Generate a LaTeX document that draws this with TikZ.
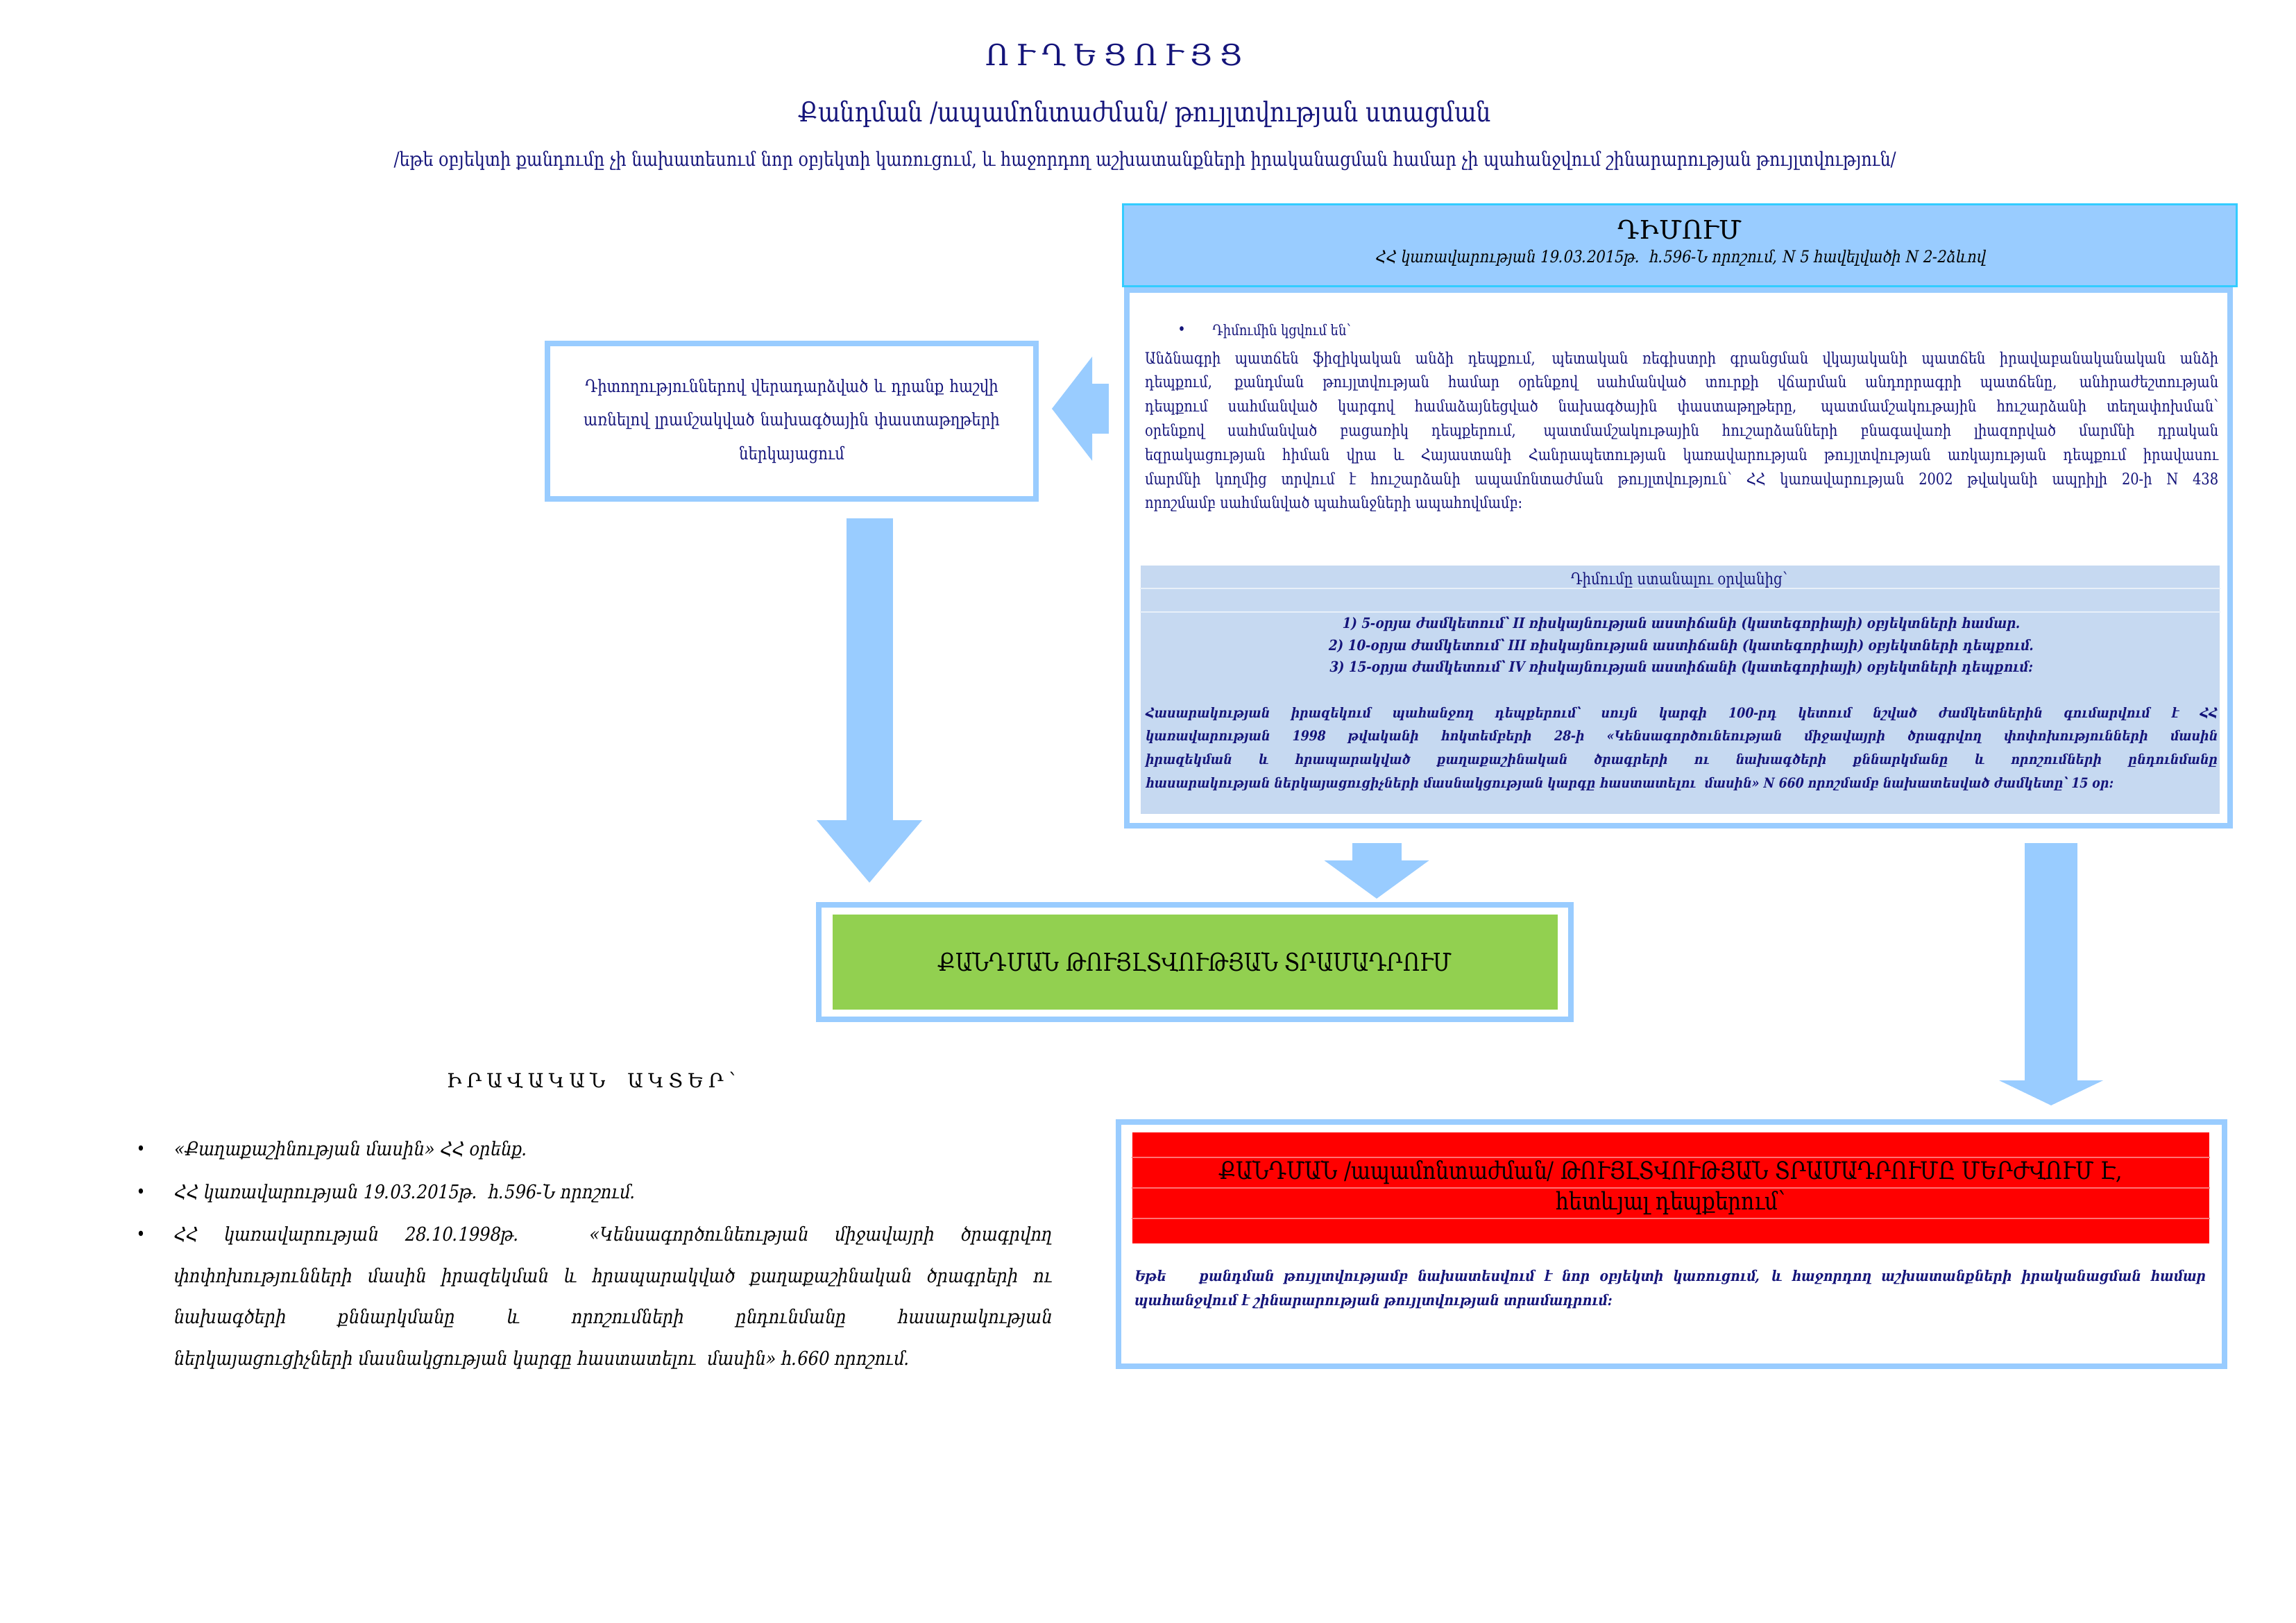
\documentclass[tikz,border=0pt]{standalone}
\usepackage{fontspec}
\setmainfont{DejaVu Serif}[FakeStretch=0.85]
\newfontfamily\armplain{DejaVu Serif}
\newfontfamily\armit{DejaVu Serif}[FakeSlant=0.2, FakeStretch=0.88]
\newfontfamily\armwide{DejaVu Serif}[LetterSpace=25]
\usetikzlibrary{arrows.meta}
\definecolor{inkblue}{HTML}{14147A}
\definecolor{skyblue}{HTML}{99CCFF}
\definecolor{capblue}{HTML}{33CCFF}
\definecolor{paleblue}{HTML}{C6D9F1}
\definecolor{leafgreen}{HTML}{92D050}
\newcommand{\setfs}[2]{\fontsize{#1}{#2}\selectfont}
\tolerance=10000
\adjdemerits=0
\begin{document}
\begin{tikzpicture}[x=1cm, y=-1cm, line join=miter, inner sep=0pt]
	\tikzset{frame/.style={draw=skyblue, line width=0.85mm, fill=white},
		txt/.style={text=inkblue, font=\setfs{6.5}{9.9}},
		fat/.style n args={3}{draw=skyblue, line width=#1, -{Triangle[length=#2, width=#3, line width=0pt 0 0, fill=skyblue]}}}
	\useasboundingbox (0,0) rectangle (33.09,23.39);
	% titles
	\node[text=inkblue, font=\armwide\setfs{12}{14}] (ttl) at (16.05,0.80) {ՈՒՂԵՑՈՒՅՑ};
	\node[text=inkblue, font=\setfs{11.2}{13}] (sub) at (16.5,1.65) {Քանդման /ապամոնտաժման/ թույլտվության ստացման};
	\node[text=inkblue, font=\setfs{8}{9}] (note) at (16.5,2.32) {/եթե օբյեկտի քանդումը չի նախատեսում նոր օբյեկտի կառուցում, և հաջորդող աշխատանքների իրականացման համար չի պահանջվում շինարարության թույլտվություն/};
	% application
	\node[frame, minimum width=15.90cm, minimum height=7.72cm] (docs) at (24.19,8.04) {};
	\node[draw=capblue, fill=skyblue, line width=0.3mm, minimum width=16.05cm, minimum height=1.18cm] (dim) at (24.205,3.54) {};
	\node[font=\armplain\setfs{10.5}{13}] (dimttl) at (24.21,3.31) {ԴԻՄՈՒՄ};
	\node[font=\armit\setfs{6.8}{7}] (dimref) at (24.21,3.72) {ՀՀ կառավարության 19.03.2015թ.\ \ հ.596-Ն որոշում, N 5 հավելվածի N 2-2ձևով};
	\node[txt] (dot0) at (17.03,4.77) {•};
	\node[txt, font=\setfs{6}{7}, anchor=west] (att) at (17.47,4.77) {Դիմումին կցվում են՝};
	\node[txt, text width=15.47cm, align=justify] (attlist) at (24.235,6.22) {Անձնագրի պատճեն ֆիզիկական անձի դեպքում, պետական ռեգիստրի գրանցման վկայականի պատճեն իրավաբանականական անձի\linebreak
		դեպքում, քանդման թույլտվության համար օրենքով սահմանված տուրքի վճարման անդորրագրի պատճենը, անհրաժեշտության\linebreak
		դեպքում սահմանված կարգով համաձայնեցված նախագծային փաստաթղթերը, պատմամշակութային հուշարձանի տեղափոխման՝\linebreak
		օրենքով սահմանված բացառիկ դեպքերում, պատմամշակութային հուշարձանների բնագավառի լիազորված մարմնի դրական\linebreak
		եզրակացության հիման վրա և Հայաստանի Հանրապետության կառավարության թույլտվության առկայության դեպքում իրավասու\linebreak
		մարմնի կողմից տրվում է հուշարձանի ապամոնտաժման թույլտվություն՝ ՀՀ կառավարության 2002 թվականի ապրիլի 20-ի N 438\linebreak
		որոշմամբ սահմանված պահանջների ապահովմամբ:};
	% terms
	\node[fill=paleblue, minimum width=15.55cm, minimum height=3.58cm] (terms) at (24.215,9.94) {};
	\foreach \y in {8.48,8.82}
	\draw[white!60!paleblue, line width=0.4pt] (terms.west |- 0,\y) -- (terms.east |- 0,\y);
	\node[txt, font=\setfs{6.6}{8}] (from) at (24.2,8.36) {Դիմումը ստանալու օրվանից՝};
	\node[txt, font=\armit\bfseries\setfs{5.9}{8.9}, align=center] (days) at (24.22,9.31) {1) 5-օրյա ժամկետում՝ II ռիսկայնության աստիճանի (կատեգորիայի) օբյեկտների համար.\\
		2) 10-օրյա ժամկետում՝ III ռիսկայնության աստիճանի (կատեգորիայի) օբյեկտների դեպքում.\\
		3) 15-օրյա ժամկետում՝ IV ռիսկայնության աստիճանի (կատեգորիայի) օբյեկտների դեպքում:};
	\node[txt, font=\armit\bfseries\setfs{5.6}{9.6}, text width=15.45cm, align=justify] (pub) at (24.225,10.79) {Հասարակության իրազեկում պահանջող դեպքերում՝ սույն կարգի 100-րդ կետում նշված ժամկետներին գումարվում է ՀՀ\linebreak
		կառավարության 1998 թվականի հոկտեմբերի 28-ի «Կենսագործունեության միջավայրի ծրագրվող փոփոխությունների մասին\linebreak
		իրազեկման և հրապարակված քաղաքաշինական ծրագրերի ու նախագծերի քննարկմանը և որոշումների ընդունմանը\linebreak
		հասարակության ներկայացուցիչների մասնակցության կարգը հաստատելու\ \ մասին» N 660 որոշմամբ նախատեսված ժամկետը՝~15~օր:};
	% remarks
	\node[frame, txt, font=\setfs{7.1}{13.8}, minimum width=7.04cm, minimum height=2.24cm, text width=6.8cm, align=center] (obs) at (11.41,6.07) {Դիտողություններով վերադարձված և դրանք հաշվի\\
		առնելով լրամշակված նախագծային փաստաթղթերի\\ ներկայացում};
	% permission
	\node[frame, minimum width=10.84cm, minimum height=1.65cm] (okfr) at (17.22,13.865) {};
	\node[fill=leafgreen, font=\setfs{10.1}{11}, minimum width=10.45cm, minimum height=1.37cm] (ok) at (17.22,13.865) {ՔԱՆԴՄԱՆ ԹՈՒՅԼՏՎՈՒԹՅԱՆ ՏՐԱՄԱԴՐՈՒՄ};
	% refusal
	\node[frame, minimum width=15.94cm, minimum height=3.52cm] (nofr) at (24.09,17.93) {};
	\node[fill=red, minimum width=15.52cm, minimum height=1.60cm] (no) at (24.08,17.12) {};
	\foreach \y in {16.68,17.12,17.56}
	\draw[red!55!white, line width=0.4pt] (no.west |- 0,\y) -- (no.east |- 0,\y);
	\node[font=\setfs{9.9}{12.5}, align=center] (notxt) at (24.08,17.12) {ՔԱՆԴՄԱՆ /ապամոնտաժման/ ԹՈՒՅԼՏՎՈՒԹՅԱՆ ՏՐԱՄԱԴՐՈՒՄԸ ՄԵՐԺՎՈՒՄ Է,\\ հետևյալ դեպքերում՝};
	\node[txt, font=\armit\bfseries\setfs{6}{10}, text width=15.44cm, align=justify] (why) at (24.06,18.58) {Եթե\hspace{1.6em} քանդման թույլտվությամբ նախատեսվում է նոր օբյեկտի կառուցում, և հաջորդող աշխատանքների իրականացման համար\linebreak
		պահանջվում է շինարարության թույլտվության տրամադրում:};
	% arrows
	\coordinate (a1) at (12.53,7.47); \coordinate (a1e) at (12.53,12.72);
	\coordinate (a2) at (15.98,5.89); \coordinate (a2e) at (15.16,5.89);
	\coordinate (a3) at (19.84,12.15); \coordinate (a3e) at (19.84,12.95);
	\coordinate (a4) at (29.56,12.15); \coordinate (a4e) at (29.56,15.93);
	\draw[fat={6.7mm}{9mm}{15.2mm}] (a1) -- (a1e);
	\draw[fat={7.2mm}{5.8mm}{15mm}] (a2) -- (a2e);
	\draw[fat={7.1mm}{5.5mm}{15.1mm}] (a3) -- (a3e);
	\draw[fat={7.6mm}{3.6mm}{15mm}] (a4) -- (a4e);
	% legal acts
	\node[font=\armwide\setfs{8}{10}] (acts) at (8.52,15.57) {ԻՐԱՎԱԿԱՆ\ \ ԱԿՏԵՐ՝};
	\foreach \y [count=\i] in {16.58,17.20,17.81}
	\node[font=\setfs{7.3}{9}] (dot\i) at (2.03,\y) {•};
	\node[font=\armit\setfs{7.8}{16.9}, anchor=west] (law1) at (2.49,16.58) {«Քաղաքաշինության մասին» ՀՀ օրենք.};
	\node[font=\armit\setfs{7.8}{16.9}, anchor=west] (law2) at (2.49,17.20) {ՀՀ կառավարության 19.03.2015թ.\ \ հ.596-Ն որոշում.};
	\node[font=\armit\setfs{7.8}{16.9}, text width=12.66cm, align=justify] (law3) at (8.82,18.705) {ՀՀ կառավարության 28.10.1998թ. «Կենսագործունեության միջավայրի ծրագրվող\linebreak
		փոփոխությունների մասին իրազեկման և հրապարակված քաղաքաշինական ծրագրերի ու\linebreak
		նախագծերի քննարկմանը և որոշումների ընդունմանը հասարակության\linebreak
		ներկայացուցիչների մասնակցության կարգը հաստատելու\ \ մասին» հ.660 որոշում.};
\end{tikzpicture}
\end{document}
